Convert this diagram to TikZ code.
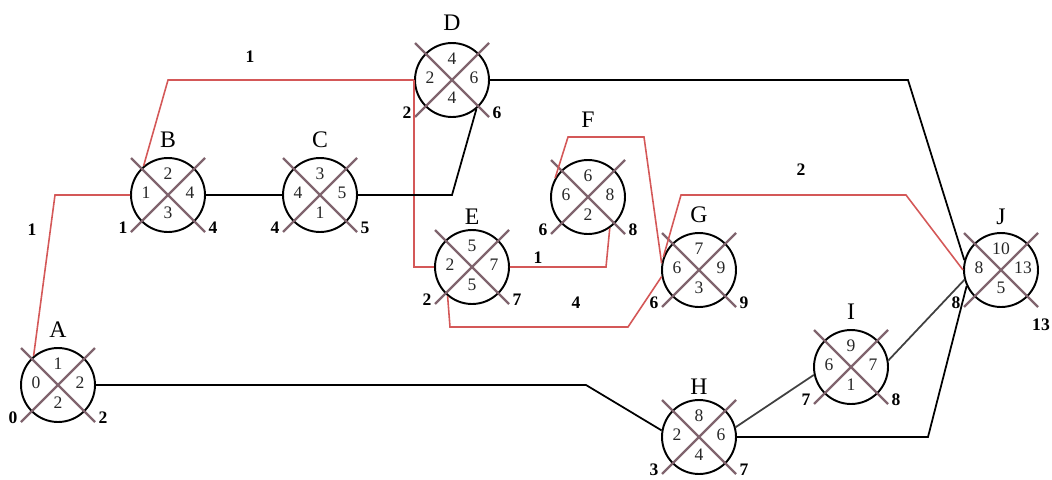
\documentclass[tikz,border=0pt]{standalone}
\usepackage{fontspec}
\setmainfont{Liberation Serif}
\usetikzlibrary{calc}

\definecolor{rojoruta}{RGB}{212,88,88}
\definecolor{cruzgris}{RGB}{128,100,110}

\begin{document}
\begin{tikzpicture}[x=0.02cm, y=-0.02cm,
    evento/.style={circle, draw=black, line width=1.1pt, minimum size=1.48cm, inner sep=0pt},
    cruz/.style={cruzgris, line width=1.3pt},
    critica/.style={rojoruta, line width=0.9pt},
    holgura/.style={black, line width=1pt},
    dentro/.style={font=\fontsize{10}{10}\selectfont, text=black!85},
    fuera/.style={font=\bfseries\fontsize{10}{10}\selectfont},
    letra/.style={font=\fontsize{13.5}{13.5}\selectfont},
    duracion/.style={font=\bfseries\fontsize{10}{10}\selectfont}]

  \useasboundingbox (0,0) rectangle (1052,480);

  %% sucesos: nombre/x/y/letra/arriba/izq/der/abajo/fuera izq/fuera der/desplazamiento der
  \foreach \n/\px/\py/\ly/\arr/\izq/\der/\aba/\fuiz/\fude/\dx/\dy in {
      A/58/385/-55/1/0/2/2/0/2/45/33,
      B/168/195/-55/2/1/4/3/1/4/45/33,
      C/320/195/-55/3/4/5/1/4/5/45/33,
      D/452/80/-57/4/2/6/4/2/6/45/33,
      E/472/267/-50/5/2/7/5/2/7/45/33,
      F/588/197/-77/6/6/8/2/6/8/45/33,
      G/699/270/-55/7/6/9/3/6/9/45/33,
      H/699/437/-50/8/2/6/4/3/7/45/33,
      I/851/367/-55/9/6/7/1/7/8/45/33,
      J/1001/270/-53/10/8/13/5/8/13/40/55}{
    \node[evento] (\n) at (\px,\py) {};
    \draw[cruz] ([shift={(-37,-37)}]\n.center) -- ([shift={(37,37)}]\n.center);
    \draw[cruz] ([shift={(37,-37)}]\n.center) -- ([shift={(-37,37)}]\n.center);
    \node[letra] (\n-nom) at ([shift={(0,\ly)}]\n.center) {\n};
    \node[dentro] (\n-ar) at ([shift={(0,-21)}]\n.center) {\arr};
    \node[dentro] (\n-iz) at ([shift={(-22,-2)}]\n.center) {\izq};
    \node[dentro] (\n-de) at ([shift={(22,-2)}]\n.center) {\der};
    \node[dentro] (\n-ab) at ([shift={(0,18)}]\n.center) {\aba};
    \node[fuera] (\n-fi) at ([shift={(-45,33)}]\n.center) {\fuiz};
    \node[fuera] (\n-fd) at ([shift={(\dx,\dy)}]\n.center) {\fude};
  }

  %% ruta critica
  \draw[critica] (A.130) -- (55,195) -- (B.west);
  \draw[critica] (B.130) -- (168,80) -- (D.west);
  \draw[critica] (D.west) |- (E.west);
  \draw[critica] (E.east) -- (606,267) -- (F.305);
  \draw[critica] (F.150) -- (568,137) -- (644,137) -- (G.170);
  \draw[critica] (E.230) -- (450,327) -- (628,327) -- (G.190);
  \draw[critica] (G.160) -- (681,195) -- (906,195) -- (J.west);

  %% actividades con holgura
  \draw[holgura] (B.east) -- (C.west);
  \draw[holgura] (C.east) -- (C.east -| D) -- (D.310);
  \draw[holgura] (D.east) -- (908,80) -- (J.165);
  \draw[holgura] (A.east) -- (586,385) -- (H.170);
  \draw[holgura, black!75] (H.15) -- (I.192);
  \draw[holgura, black!75] (I.10) -- (J.195);
  \draw[holgura] (H.east) -- (928,437) -- (J.205);

  % duraciones
  \node[duracion] (dAB) at (32,230) {1};
  \node[duracion] (dBD) at (250,57) {1};
  \node[duracion] (dEF) at (538,258) {1};
  \node[duracion] (dEG) at (576,303) {4};
  \node[duracion] (dGJ) at (801,170) {2};

\end{tikzpicture}
\end{document}
